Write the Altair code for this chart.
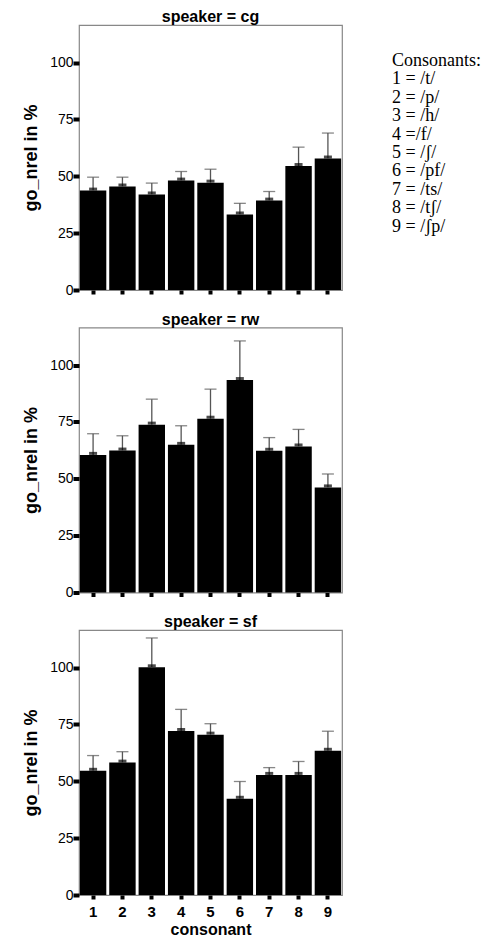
import altair as alt
import pandas as pd

consonants = [1, 2, 3, 4, 5, 6, 7, 8, 9]

cg_mean = [43.7, 45.5, 42.0, 48.1, 47.2, 33.2, 39.3, 54.5, 57.8]
cg_upper = [49.6, 49.6, 47.0, 52.1, 53.1, 38.1, 43.3, 62.8, 69.0]

rw_mean = [60.5, 62.4, 73.8, 64.9, 76.4, 93.4, 62.3, 64.2, 46.2]
rw_upper = [69.8, 68.9, 85.0, 73.3, 89.4, 110.6, 68.1, 71.7, 52.1]

sf_mean = [54.6, 58.2, 100.1, 72.1, 70.5, 42.3, 52.8, 52.8, 63.4]
sf_upper = [61.3, 63.0, 113.0, 81.6, 75.3, 49.9, 56.0, 58.7, 72.0]

y_ticks = [0, 25, 50, 75, 100]

legend_lines = [
    "Consonants:",
    "1 = /t/",
    "2 = /p/",
    "3 = /h/",
    "4 =/f/",
    "5 = /ʃ/",
    "6 = /pf/",
    "7 = /ts/",
    "8 = /tʃ/",
    "9 = /ʃp/",
]

SANS = "Liberation Sans"
ERR = "#555555"


def panel(spk, mean, upper, bottom, legend=False):
    df = pd.DataFrame({"consonant": consonants, "mean": mean, "upper": upper})
    base = alt.Chart(df)
    x_axis = alt.Axis(
        labels=bottom,
        labelAngle=0,
        labelFont=SANS,
        labelFontSize=15,
        labelFontWeight="bold",
        labelColor="black",
        labelPadding=5,
        tickSize=4,
        tickWidth=4,
        tickColor="black",
        domain=False,
        grid=False,
        titleFont=SANS,
        titleFontSize=16,
        titleFontWeight="bold",
        titleColor="black",
        titlePadding=2,
    )
    x = alt.X(
        "consonant:O",
        scale=alt.Scale(paddingInner=0.1, paddingOuter=0.03),
        axis=x_axis,
        title="consonant" if bottom else None,
    )
    y = alt.Y(
        "mean:Q",
        scale=alt.Scale(domain=[0, 116.5], nice=False),
        axis=alt.Axis(
            values=y_ticks,
            tickSize=6,
            tickWidth=4,
            tickColor="black",
            domain=False,
            grid=False,
            labelFont=SANS,
            labelFontSize=14,
            labelColor="black",
            labelPadding=0,
            titleFont=SANS,
            titleFontSize=18,
            titleFontWeight="bold",
            titleColor="black",
            titlePadding=9,
        ),
        title="go_nrel in %",
    )
    bars = base.mark_bar(color="black").encode(x=x, y=y)
    err = base.mark_rule(color=ERR, strokeWidth=1.3).encode(
        x="consonant:O", y="mean:Q", y2="upper:Q"
    )
    cap = base.mark_tick(color=ERR, size=12, thickness=1.3).encode(
        x="consonant:O", y="upper:Q"
    )
    bump = base.mark_tick(color="black", size=8, thickness=3, yOffset=-1.5).encode(
        x="consonant:O", y="mean:Q"
    )
    layers = [bars, err, cap, bump]
    if legend:
        leg = alt.Chart(pd.DataFrame({"k": [0]})).mark_text(
            text="\n".join(legend_lines),
            lineBreak="\n",
            lineHeight=18.4,
            font="Liberation Serif",
            fontSize=18,
            align="left",
            baseline="alphabetic",
            color="black",
        ).encode(x=alt.value(313), y=alt.value(41))
        layers.append(leg)
    return alt.layer(*layers).properties(
        width=263,
        height=265,
        title=alt.Title(
            f"speaker = {spk}",
            font=SANS,
            fontSize=16,
            fontWeight="bold",
            color="black",
            offset=0,
            anchor="middle",
        ),
    )


chart = (
    alt.vconcat(
        panel("cg", cg_mean, cg_upper, False, legend=True),
        panel("rw", rw_mean, rw_upper, False),
        panel("sf", sf_mean, sf_upper, True),
        spacing=12.5,
    )
    .properties(padding={"left": 14, "top": 0, "right": 0, "bottom": 0})
    .configure_view(stroke="#888888", strokeWidth=1.2)
)

chart.save("out.html", embed_options={"renderer": "svg", "actions": False})
